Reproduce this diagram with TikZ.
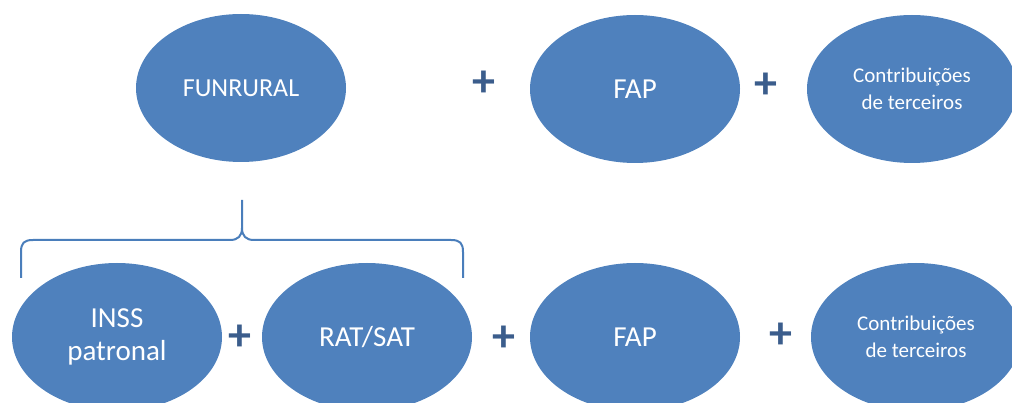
\documentclass[tikz,border=0pt]{standalone}
\usepackage{fontspec}
\setmainfont{Carlito}
\usetikzlibrary{shapes.geometric}
\definecolor{bubblefill}{HTML}{4F81BD}
\definecolor{plusblue}{HTML}{3B5D8C}
\definecolor{bracecol}{HTML}{4A7EBB}

\begin{document}
\begin{tikzpicture}[x=1pt,y=-1pt,
  bubble/.style={ellipse, fill=bubblefill, draw=none, minimum width=210pt,
    minimum height=148pt, inner sep=0pt, text=white, align=center},
  bigtext/.style={font=\fontsize{29}{33}\selectfont},
  midtext/.style={font=\fontsize{26}{30}\selectfont},
  smalltext/.style={font=\fontsize{21}{27}\selectfont},
  plussign/.style={text=plusblue, font=\fontsize{46}{46}\selectfont\bfseries, inner sep=0pt},
  bracestyle/.style={draw=bracecol, line width=2pt, line join=round}]
\useasboundingbox (0,0) rectangle (1012,403);
\clip (0,0) rectangle (1012,403);

% upper row
\node[bubble, midtext]   (funrural) at (241,88)  {FUNRURAL};
\node[bubble, bigtext]   (fapA)     at (635,89)  {FAP};
\node[bubble, smalltext] (terA)     at (912,89)  {Contribuições\\de terceiros};
\node[plussign] (pA1) at (484,84) {+};
\node[plussign] (pA2) at (766,86) {+};

% lower row
\node[bubble, bigtext]   (inss) at (117,337) {INSS\\patronal};
\node[bubble, bigtext]   (rat)  at (367,337) {RAT/SAT};
\node[bubble, bigtext]   (fapB) at (635,337) {FAP};
\node[bubble, smalltext] (terB) at (916,337) {Contribuições\\de terceiros};
\node[plussign] (pB1) at (240,338) {+};
\node[plussign] (pB2) at (504,339) {+};
\node[plussign] (pB3) at (781,336) {+};

% brace grouping INSS and RAT/SAT under FUNRURAL
\coordinate (bl) at (21,278);
\coordinate (br) at (463,278);
\coordinate (btip) at (242,200);
\draw[bracestyle] (bl) -- (21,252) .. controls (21,243) and (24,240) .. (33,240)
  -- (230,240) .. controls (238,240) and (242,236) .. (242,228) -- (btip);
\draw[bracestyle] (br) -- (463,252) .. controls (463,243) and (460,240) .. (451,240)
  -- (254,240) .. controls (246,240) and (242,236) .. (242,228);
\end{tikzpicture}
\end{document}
